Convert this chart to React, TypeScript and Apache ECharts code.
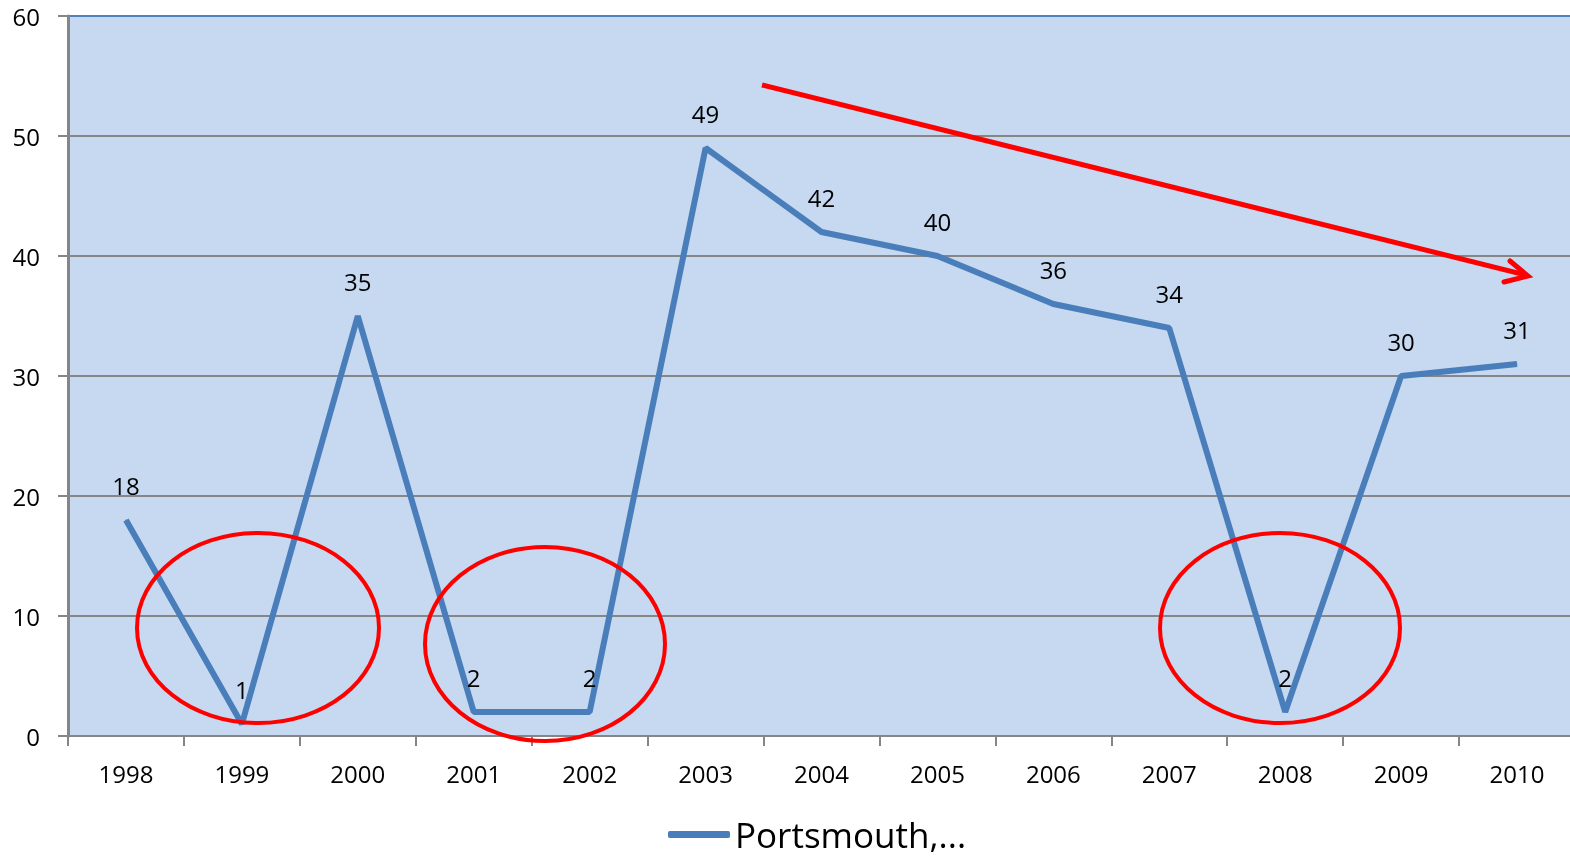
import React, { useEffect, useRef } from "react";
import * as echarts from "echarts";

const years = ["1998", "1999", "2000", "2001", "2002", "2003", "2004", "2005", "2006", "2007", "2008", "2009", "2010"];
const portsmouth = [18, 1, 35, 2, 2, 49, 42, 40, 36, 34, 2, 30, 31];
const seriesName = "Portsmouth,...";

export default function App() {
  const ref = useRef<HTMLDivElement>(null);
  useEffect(() => {
    if (!ref.current) return;
    const chart = echarts.init(ref.current, undefined, { renderer: "svg" });
    const font = "Open Sans";
    const red = "#FF0000";
    chart.setOption({
      animation: false,
      textStyle: { fontFamily: font },
      grid: { left: 68, right: 0, top: 16, bottom: 121, show: true, backgroundColor: "#C6D9F0", borderWidth: 0 },
      legend: {
        top: 812,
        left: 663,
        icon: "roundRect",
        itemWidth: 62,
        itemHeight: 7,
        itemGap: 4,
        textStyle: { fontSize: 35, color: "#000", fontFamily: font, padding: [0, 0, 0, 0] },
        data: [seriesName],
      },
      xAxis: {
        type: "category",
        data: years,
        boundaryGap: true,
        axisLine: { lineStyle: { color: "#868686", width: 2 } },
        axisTick: { show: true, length: 10, lineStyle: { color: "#868686", width: 2 } },
        axisLabel: { fontSize: 24, color: "#000", margin: 25, fontFamily: font },
      },
      yAxis: {
        type: "value",
        min: 0,
        max: 60,
        interval: 10,
        axisLine: { show: true, lineStyle: { color: "#868686", width: 3 } },
        axisTick: { show: true, length: 10, lineStyle: { color: "#868686", width: 2 } },
        axisLabel: { fontSize: 24, color: "#000", margin: 28, fontFamily: font },
        splitLine: {
          show: true,
          lineStyle: {
            color: ["#868686", "#868686", "#868686", "#868686", "#868686", "#868686", "#4F81BD"],
            width: 2,
          },
        },
      },
      series: [
        {
          name: seriesName,
          type: "line",
          data: portsmouth,
          symbol: "circle",
          symbolSize: 1,
          showSymbol: true,
          itemStyle: { color: "#4A7EBB" },
          lineStyle: { color: "#4A7EBB", width: 6 },
          label: { show: true, position: "top", distance: 22, fontSize: 24, color: "#000", fontFamily: font },
          z: 3,
        },
      ],
      graphic: [
        { type: "ellipse", shape: { cx: 258, cy: 628, rx: 121, ry: 95 }, style: { fill: "none", stroke: red, lineWidth: 4 }, z: 10 },
        { type: "ellipse", shape: { cx: 545, cy: 644, rx: 120, ry: 97 }, style: { fill: "none", stroke: red, lineWidth: 4 }, z: 10 },
        { type: "ellipse", shape: { cx: 1280, cy: 628, rx: 120, ry: 95 }, style: { fill: "none", stroke: red, lineWidth: 4 }, z: 10 },
        { type: "line", shape: { x1: 762, y1: 85, x2: 1526, y2: 275 }, style: { stroke: red, lineWidth: 5 }, z: 10 },
        {
          type: "polyline",
          shape: { points: [[1510, 261], [1528, 276], [1504, 282]] },
          style: { stroke: red, lineWidth: 5, fill: "none", lineCap: "round", lineJoin: "miter" },
          z: 10,
        },
      ],
    });
    return () => chart.dispose();
  }, []);
  return <div ref={ref} style={{ position: "fixed", left: 0, top: 0, width: 1575, height: 857 }} />;
}
